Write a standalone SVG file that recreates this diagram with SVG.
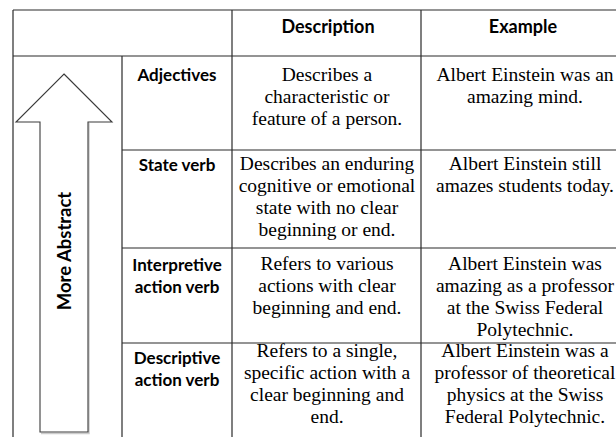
<svg xmlns="http://www.w3.org/2000/svg" width="616" height="437" viewBox="0 0 616 437">
<style>
.grid{stroke:#2b2b2b;stroke-width:1.2;fill:none}
.hd{font-family:Lato,"Open Sans","Liberation Sans",sans-serif;font-weight:700;font-size:18px;fill:#000;text-anchor:middle}
.lb{font-family:Lato,"Open Sans","Liberation Sans",sans-serif;font-weight:700;font-size:17px;fill:#000;text-anchor:middle}
.tx{font-family:"Liberation Serif","Times New Roman",serif;font-size:19.5px;fill:#000;text-anchor:middle}
</style>
<rect width="616" height="437" fill="#fff"/>
<g id="connectors">
<path class="grid" d="M13,10H616M13,56H616M122,150H616M122,248H616M122,343H616M13,10V437M122,56V437M232,10V437M421,10V437"/>
</g>
<g id="arrow">
<polyline points="41,433.5 89,433.5 89,123" fill="none" stroke="#ccc" stroke-width="1.5"/>
<polygon points="64,74 112,122 88,122 88,432 40,432 40,122 16,122" fill="#fff" stroke="#3a3a3a" stroke-width="1.1"/>
<text class="lb" style="font-size:18.5px" transform="translate(71,251) rotate(-90)">More Abstract</text>
</g>
<g id="header">
<text class="hd" x="328" y="33">Description</text>
<text class="hd" x="523" y="33">Example</text>
</g>
<g id="row-adjectives">
<text class="lb" x="177" y="81">Adjectives</text>
<text class="tx" x="327" y="81">Describes a</text>
<text class="tx" x="327" y="103">characteristic or</text>
<text class="tx" x="327" y="125">feature of a person.</text>
<text class="tx" x="525" y="81">Albert Einstein was an</text>
<text class="tx" x="525" y="103">amazing mind.</text>
</g>
<g id="row-state">
<text class="lb" x="177" y="171">State verb</text>
<text class="tx" x="327" y="170">Describes an enduring</text>
<text class="tx" x="327" y="192">cognitive or emotional</text>
<text class="tx" x="327" y="214">state with no clear</text>
<text class="tx" x="327" y="236">beginning or end.</text>
<text class="tx" x="525" y="170">Albert Einstein still</text>
<text class="tx" x="525" y="192">amazes students today.</text>
</g>
<g id="row-interpretive">
<text class="lb" x="177" y="271">Interpretive</text>
<text class="lb" x="177" y="293">action verb</text>
<text class="tx" x="327" y="270">Refers to various</text>
<text class="tx" x="327" y="292">actions with clear</text>
<text class="tx" x="327" y="314">beginning and end.</text>
<text class="tx" x="525" y="270">Albert Einstein was</text>
<text class="tx" x="525" y="292">amazing as a professor</text>
<text class="tx" x="525" y="314">at the Swiss Federal</text>
<text class="tx" x="525" y="336">Polytechnic.</text>
</g>
<g id="row-descriptive">
<text class="lb" x="177" y="364">Descriptive</text>
<text class="lb" x="177" y="386">action verb</text>
<text class="tx" x="327" y="357">Refers to a single,</text>
<text class="tx" x="327" y="379">specific action with a</text>
<text class="tx" x="327" y="401">clear beginning and</text>
<text class="tx" x="327" y="423">end.</text>
<text class="tx" x="525" y="357">Albert Einstein was a</text>
<text class="tx" x="525" y="379">professor of theoretical</text>
<text class="tx" x="525" y="401">physics at the Swiss</text>
<text class="tx" x="525" y="423">Federal Polytechnic.</text>
</g>
</svg>
